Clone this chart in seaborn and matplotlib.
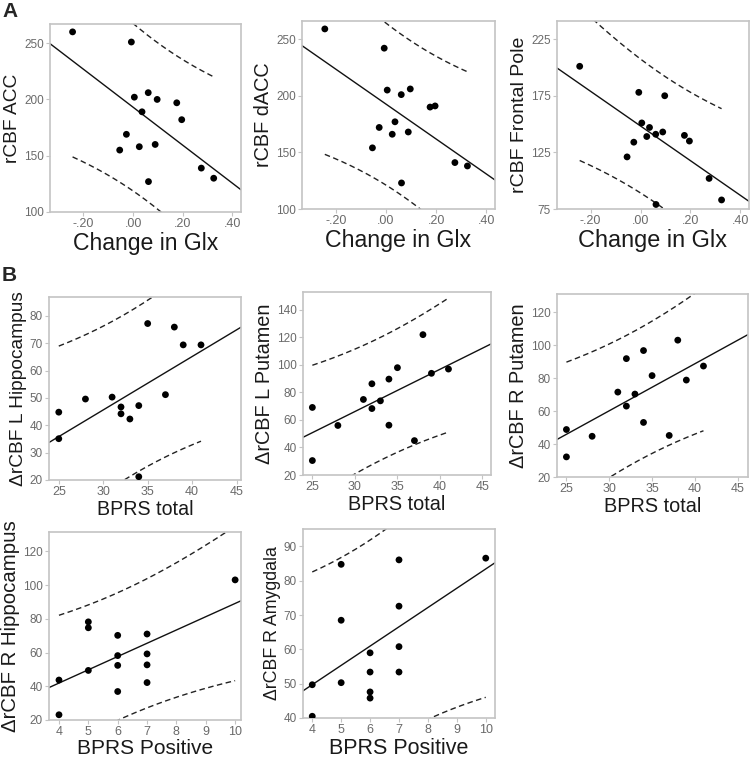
import numpy as np
import pandas as pd
import matplotlib
matplotlib.use("Agg")
import matplotlib.pyplot as plt
from matplotlib.ticker import FuncFormatter
import seaborn as sns

# Data
glx = [-0.244, -0.054, -0.027, -0.007, 0.005, 0.025, 0.036, 0.061, 0.062,
       0.089, 0.097, 0.176, 0.196, 0.275, 0.325]
acc = [260, 155, 169, 251, 202, 158, 189, 206, 127, 160, 200, 197, 182, 139, 130]
dacc = [259, 154, 172, 242, 205, 166, 177, 201, 123, 168, 206, 190, 191, 141, 138]
fpole = [201, 121, 134, 178, 151, 139, 147, 141, 79, 143, 175, 140, 135, 102, 83]

bprs_total = [25, 25, 28, 31, 32, 32, 33, 34, 34, 35, 37, 38, 39, 41]
l_hippo = [44.8, 35.1, 49.6, 50.3, 46.7, 44.2, 42.3, 47.2, 21.2, 77.2, 51.2, 75.9, 69.4, 69.4]
l_put = [69.1, 30.5, 56, 74.9, 86.3, 68.3, 73.9, 89.7, 56.2, 98, 45, 122, 93.9, 97]
r_put = [48.8, 32.2, 44.7, 71.5, 91.8, 63, 70.3, 96.7, 53.1, 81.5, 45.2, 103, 78.8, 87.3]

bprs_pos = [4, 4, 5, 5, 5, 6, 6, 6, 6, 7, 7, 7, 7, 10]
r_hippo = [43.7, 23.1, 78.2, 74.7, 49.4, 70.2, 58.2, 52.4, 36.9, 71, 59.2, 52.7, 42.2, 103.1]
r_amyg = [49.7, 40.5, 84.8, 68.5, 50.3, 59.0, 53.4, 47.6, 45.8, 86.1, 72.6, 60.8, 53.4, 86.6]

try:
    from scipy import stats
    def tcrit(df):
        return stats.t.ppf(0.975, df)
except ImportError:
    T975 = {11: 2.2010, 12: 2.1788, 13: 2.1604, 14: 2.1448}
    def tcrit(df):
        return T975[df]

sns.set_style("white")
plt.rcParams['font.family'] = ['Liberation Sans', 'DejaVu Sans']

W, H = 750, 761
fig = plt.figure(figsize=(W / 100, H / 100), dpi=100)

GRAY_FRAME = '#c4c4c4'
GRAY_TXT = '#6a6a6a'


def make_ax(l, t, r, b):
    return fig.add_axes([l / W, 1 - b / H, (r - l) / W, (b - t) / H])


def panel(ax, x, y, xlim, ylim, xticks, yticks, xlabel, ylabel,
          xfs=14, yfs=14, xpad=1, glx_fmt=False):
    ax.set_xlim(*xlim)
    ax.set_ylim(*ylim)
    df = pd.DataFrame({'x': x, 'y': y})
    sns.regplot(data=df, x='x', y='y', ax=ax, ci=None, truncate=False,
                scatter_kws=dict(s=24, color='black', edgecolor='none',
                                 alpha=1, zorder=3),
                line_kws=dict(color='#111111', lw=1.0))
    # 95% prediction interval of individual values
    xa = np.asarray(x, float)
    ya = np.asarray(y, float)
    n = len(xa)
    b1, b0 = np.polyfit(xa, ya, 1)
    resid = ya - (b0 + b1 * xa)
    s = np.sqrt(np.sum(resid ** 2) / (n - 2))
    xs = np.linspace(xa.min(), xa.max(), 200)
    se = s * np.sqrt(1 + 1 / n + (xs - xa.mean()) ** 2 / np.sum((xa - xa.mean()) ** 2))
    fit = b0 + b1 * xs
    tc = tcrit(n - 2)
    for sign in (1, -1):
        ax.plot(xs, fit + sign * tc * se, color='#222222', lw=1.0,
                dashes=(4, 2.5))
    ax.set_xlim(*xlim)
    ax.set_ylim(*ylim)
    ax.set_xticks(xticks)
    ax.set_yticks(yticks)
    if glx_fmt:
        ax.xaxis.set_major_formatter(FuncFormatter(
            lambda v, p: ('-' if v < -1e-9 else '') + ('%.2f' % abs(v))[1:]))
    for sp in ax.spines.values():
        sp.set_color(GRAY_FRAME)
        sp.set_linewidth(1.2)
    ax.tick_params(axis='both', direction='out', length=3, width=0.8,
                   color=GRAY_FRAME, labelcolor=GRAY_TXT, pad=1.5)
    ax.tick_params(axis='x', labelsize=9)
    ax.tick_params(axis='y', labelsize=8.5)
    ax.tick_params(top=False, right=False, left=True, bottom=True)
    ax.set_xlabel(xlabel, fontsize=xfs, color='#1a1a1a', labelpad=xpad)
    ax.set_ylabel(ylabel, fontsize=yfs, color='#1a1a1a', labelpad=2)


glx_xlim = (-0.335, 0.435)
glx_ticks = [-0.2, 0.0, 0.2, 0.4]

ax = make_ax(50, 24, 241, 212)
panel(ax, glx, acc, glx_xlim, (100, 267), glx_ticks, [100, 150, 200, 250],
      'Change in Glx', 'rCBF ACC', xfs=16.6, yfs=13.8, glx_fmt=True)
ax = make_ax(302, 21, 495, 209)
panel(ax, glx, dacc, glx_xlim, (100, 266), glx_ticks, [100, 150, 200, 250],
      'Change in Glx', 'rCBF dACC', xfs=16.7, yfs=14.3, glx_fmt=True)
ax = make_ax(557, 21, 749, 209)
panel(ax, glx, fpole, glx_xlim, (75, 241), glx_ticks, [75, 125, 175, 225],
      'Change in Glx', 'rCBF Frontal Pole', xfs=16.9, yfs=14, glx_fmt=True)

tot_ticks = [25, 30, 35, 40, 45]
ax = make_ax(49, 297, 241, 480)
panel(ax, bprs_total, l_hippo, (23.9, 45.5), (20, 86.9), tot_ticks,
      list(range(20, 81, 10)), 'BPRS total', '\u0394rCBF L Hippocampus',
      xfs=14.1, yfs=13.8)
ax = make_ax(303, 292, 491, 475)
panel(ax, bprs_total, l_put, (23.9, 46.0), (20, 153), tot_ticks,
      list(range(20, 141, 20)), 'BPRS total', '\u0394rCBF L Putamen',
      xfs=14.3, yfs=14.3)
ax = make_ax(557, 294, 748, 477)
panel(ax, bprs_total, r_put, (23.9, 46.2), (20, 131), tot_ticks,
      list(range(20, 121, 20)), 'BPRS total', '\u0394rCBF R Putamen',
      xfs=14.3, yfs=14.3)

pos_ticks = list(range(4, 11))
ax = make_ax(49, 532, 241, 720)
panel(ax, bprs_pos, r_hippo, (3.66, 10.2), (20, 131.5), pos_ticks,
      list(range(20, 121, 20)), 'BPRS Positive', '\u0394rCBF R Hippocampus',
      xfs=15, yfs=14.7, xpad=0.5)
ax = make_ax(303, 529, 495, 718)
panel(ax, bprs_pos, r_amyg, (3.68, 10.32), (40, 95.1), pos_ticks,
      list(range(40, 91, 10)), 'BPRS Positive', '\u0394rCBF R Amygdala',
      xfs=15.5, yfs=12.8, xpad=1)

fig.text(2 / W, 1 - 2 / H, 'A', fontsize=15, fontweight='bold', va='top', ha='left')
fig.text(2 / W, 1 - 266 / H, 'B', fontsize=15, fontweight='bold', va='top', ha='left')

fig.savefig('out.png', dpi=100)
